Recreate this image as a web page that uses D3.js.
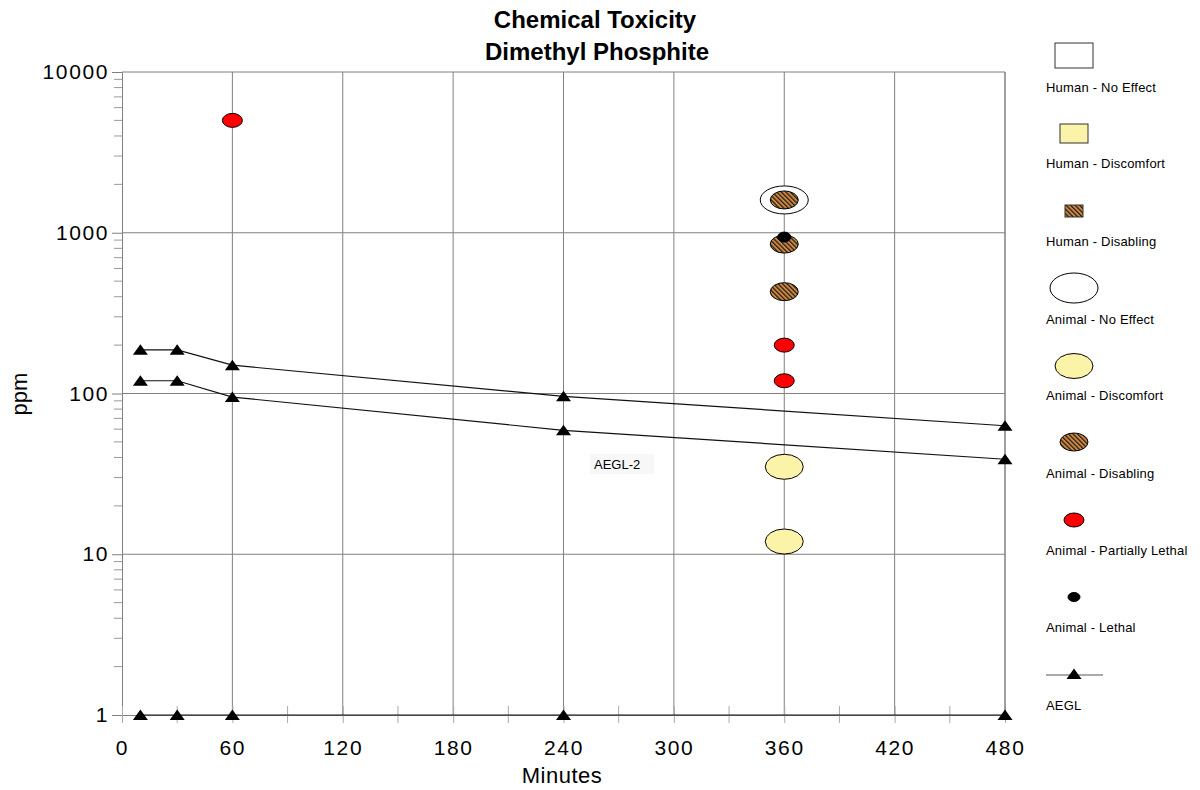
<!DOCTYPE html>
<html>
<head>
<meta charset="utf-8">
<script src="https://cdn.jsdelivr.net/npm/d3@7"></script>
<style>
  body { margin: 0; background: #fff; }
  text { font-family: "Liberation Sans", Arial, sans-serif; }
</style>
</head>
<body>
<svg id="chart" width="1200" height="790"></svg>
<script>
// data
const aeglTimes = [10, 30, 60, 240, 480];
const aegl3 = [187, 187, 150, 96, 63];
const aegl2 = [120, 120, 95, 59, 39];
const aegl1 = [1, 1, 1, 1, 1];

// points: [minutes, ppm]
const animalNoEffect = [[360, 1600]];
const animalDiscomfort = [[360, 35], [360, 12]];
const animalDisabling = [[360, 1600], [360, 850], [360, 430]];
const animalPartLethal = [[60, 5000], [360, 200], [360, 120]];
const animalLethal = [[360, 940]];

const xTicks = [0, 60, 120, 180, 240, 300, 360, 420, 480];
const yTicks = [1, 10, 100, 1000, 10000];

const legendLabels = ["Human - No Effect", "Human - Discomfort", "Human - Disabling",
  "Animal - No Effect", "Animal - Discomfort", "Animal - Disabling",
  "Animal - Partially Lethal", "Animal - Lethal", "AEGL"];

const margin = {left: 122, right: 1005, top: 72, bottom: 715};
const svg = d3.select("#chart");
const FONT = "'Liberation Sans', Arial, sans-serif";

const defs = svg.append("defs");
const pat = defs.append("pattern")
    .attr("id", "hatch")
    .attr("patternUnits", "userSpaceOnUse")
    .attr("width", 3.2).attr("height", 3.2)
    .attr("patternTransform", "rotate(-45)");
pat.append("rect").attr("width", 3.2).attr("height", 3.2).attr("fill", "#d4883c");
pat.append("rect").attr("width", 1.3).attr("height", 3.2).attr("fill", "#222");

const x = d3.scaleLinear().domain([0, 480]).range([margin.left, margin.right]);
const y = d3.scaleLog().domain([1, 10000]).range([margin.bottom, margin.top]);

// grid
svg.append("g").selectAll("line")
    .data(xTicks.filter(d => d > 0))
    .enter().append("line")
    .attr("x1", d => x(d)).attr("x2", d => x(d))
    .attr("y1", margin.top).attr("y2", margin.bottom)
    .style("stroke", "#808080").style("stroke-width", 1);

svg.append("g").selectAll("line")
    .data(yTicks.filter(d => d > 1))
    .enter().append("line")
    .attr("x1", margin.left).attr("x2", margin.right)
    .attr("y1", d => y(d)).attr("y2", d => y(d))
    .style("stroke", "#808080").style("stroke-width", 1);

// y axis
const yAxis = d3.axisLeft(y).tickValues(yTicks).tickFormat(d3.format("d")).tickSize(10).tickPadding(3);
const yg = svg.append("g").attr("transform", `translate(${margin.left},0)`).call(yAxis);
yg.select(".domain").style("stroke", "#808080");
yg.selectAll(".tick line").style("stroke", "#808080");
yg.selectAll(".tick text").style("font-size", "21px").style("fill", "#000")
    .style("letter-spacing", "1.6px").style("font-family", FONT);

// minor y ticks
const minorY = [];
for (let e = 0; e < 4; e++) for (let k = 2; k <= 9; k++) minorY.push(k * Math.pow(10, e));
svg.append("g").selectAll("line")
    .data(minorY).enter().append("line")
    .attr("x1", margin.left - 8).attr("x2", margin.left)
    .attr("y1", d => y(d)).attr("y2", d => y(d))
    .style("stroke", "#999");

// x axis
const xAxis = d3.axisBottom(x).tickValues(xTicks).tickSize(8).tickPadding(17);
const xg = svg.append("g").attr("transform", `translate(0,${margin.bottom})`).call(xAxis);
xg.select(".domain").style("stroke", "#808080");
xg.selectAll(".tick line").style("stroke", "#aaa").attr("y1", -9);
xg.selectAll(".tick text").style("font-size", "21px").style("fill", "#000")
    .style("letter-spacing", "1.6px").style("font-family", FONT);

svg.append("g").selectAll("line")
    .data(d3.range(30, 480, 60)).enter().append("line")
    .attr("x1", d => x(d)).attr("x2", d => x(d))
    .attr("y1", margin.bottom - 9).attr("y2", margin.bottom + 8)
    .style("stroke", "#aaa");

// right border
svg.append("line")
    .attr("x1", margin.right).attr("x2", margin.right)
    .attr("y1", margin.top).attr("y2", margin.bottom)
    .style("stroke", "#808080");

// AEGL lines
const line = d3.line().x(d => x(d[0])).y(d => y(d[1]));
const triPath = "M-7.5,5 L7.5,5 L0,-5.5 Z";
[aegl3, aegl2, aegl1].forEach(series => {
    const pts = aeglTimes.map((t, i) => [t, series[i]]);
    svg.append("path").datum(pts).attr("d", line)
        .style("fill", "none").style("stroke", "#111").style("stroke-width", 1.2);
    svg.append("g").selectAll("path").data(pts).enter().append("path")
        .attr("d", triPath)
        .attr("transform", d => `translate(${x(d[0])},${y(d[1])})`)
        .style("fill", "#000");
});

// AEGL-2 label
svg.append("rect").attr("x", 590).attr("y", 454).attr("width", 64).attr("height", 20).style("fill", "#f7f7f7");
svg.append("text").attr("x", 594).attr("y", 469).text("AEGL-2")
    .style("font-size", "13px").style("fill", "#000");

// points
const drawEllipses = (data, rx, ry, fill, stroke) => {
    svg.append("g").selectAll("ellipse").data(data).enter().append("ellipse")
        .attr("cx", d => x(d[0])).attr("cy", d => y(d[1]))
        .attr("rx", rx).attr("ry", ry)
        .style("fill", fill).style("stroke", stroke).style("stroke-width", 1);
};
drawEllipses(animalNoEffect, 24, 14, "#fff", "#000");
drawEllipses(animalDiscomfort, 19, 12.5, "#fbf3a8", "#000");
drawEllipses(animalDisabling, 14, 9, "url(#hatch)", "#000");
drawEllipses(animalPartLethal, 10, 7, "#ff0000", "#000");
drawEllipses(animalLethal, 6.5, 5, "#000", "#000");

// titles
svg.append("text").attr("x", 595).attr("y", 28).attr("text-anchor", "middle")
    .text("Chemical Toxicity").style("font-size", "24px").style("font-weight", "bold");
svg.append("text").attr("x", 597).attr("y", 60).attr("text-anchor", "middle")
    .text("Dimethyl Phosphite").style("font-size", "24px").style("font-weight", "bold");
svg.append("text").attr("x", 562).attr("y", 783).attr("text-anchor", "middle")
    .text("Minutes").style("font-size", "22px").style("letter-spacing", "0.5px");
svg.append("text").attr("transform", "translate(27,394) rotate(-90)").attr("text-anchor", "middle")
    .text("ppm").style("font-size", "22px");

// legend
const lg = svg.append("g");
const lx = 1074;
const legendY = [88, 164, 242, 320, 396, 474, 551, 628, 706];
lg.selectAll("text").data(legendLabels).enter().append("text")
    .attr("x", 1046).attr("y", (d, i) => legendY[i] + 4)
    .text(d => d).style("font-size", "13px").style("letter-spacing", "0.2px").style("fill", "#000");

lg.append("rect").attr("x", lx - 19).attr("y", 43).attr("width", 38).attr("height", 25)
    .style("fill", "#fff").style("stroke", "#333");
lg.append("rect").attr("x", lx - 14).attr("y", 124).attr("width", 28).attr("height", 19)
    .style("fill", "#fbf3a8").style("stroke", "#333");
lg.append("rect").attr("x", lx - 9).attr("y", 205).attr("width", 18).attr("height", 12)
    .style("fill", "url(#hatch)").style("stroke", "#333");
const legEll = [[288, 24, 15, "#fff"], [366, 19, 12.5, "#fbf3a8"], [442, 14, 9, "url(#hatch)"],
    [520, 10, 7, "#ff0000"], [597, 6, 4.5, "#000"]];
lg.selectAll("ellipse").data(legEll).enter().append("ellipse")
    .attr("cx", lx).attr("cy", d => d[0]).attr("rx", d => d[1]).attr("ry", d => d[2])
    .style("fill", d => d[3]).style("stroke", "#000");
lg.append("line").attr("x1", 1046).attr("x2", 1103).attr("y1", 675).attr("y2", 675)
    .style("stroke", "#555").style("stroke-width", 1.2);
lg.append("path").attr("d", triPath).attr("transform", `translate(${lx},674)`).style("fill", "#000");
</script>
</body>
</html>
